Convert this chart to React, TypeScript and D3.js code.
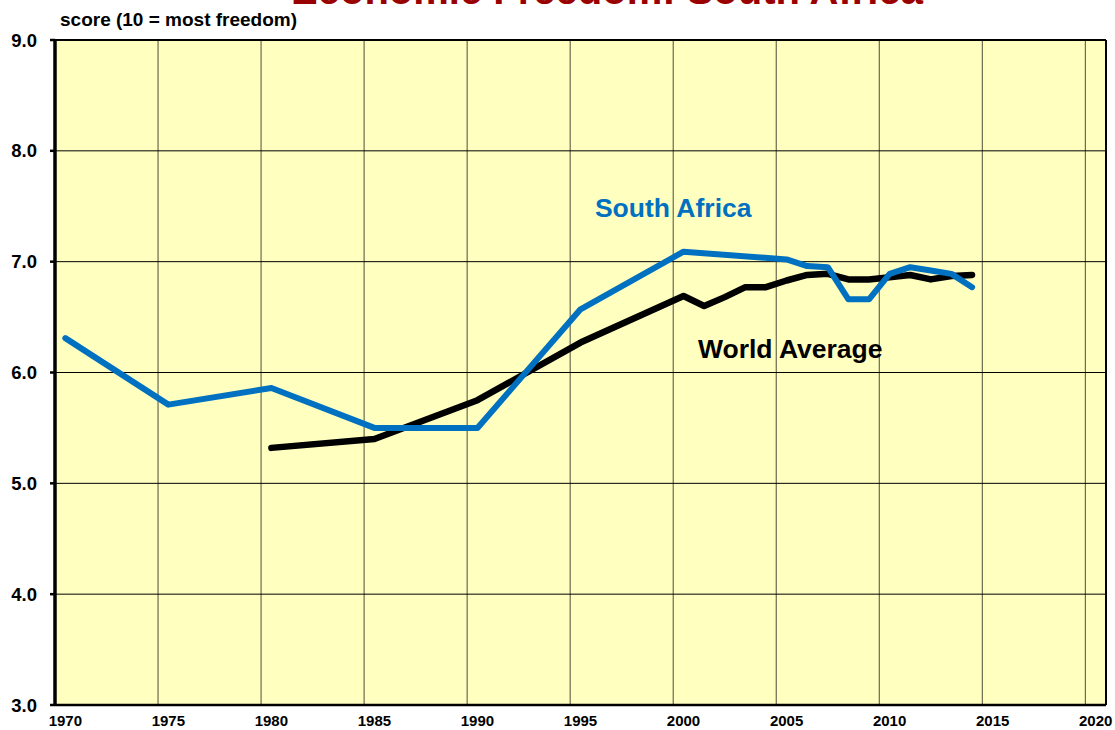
import React from 'react';
import * as d3 from 'd3';

// South Africa EFW summary index
const saYears = [1970, 1975, 1980, 1985, 1990, 1995, 2000, 2005, 2006, 2007, 2008, 2009, 2010, 2011, 2012, 2013, 2014];
const saScores = [6.31, 5.71, 5.86, 5.5, 5.5, 6.57, 7.09, 7.02, 6.96, 6.95, 6.66, 6.66, 6.89, 6.95, 6.92, 6.89, 6.77];

// World average
const worldYears = [1980, 1985, 1990, 1995, 2000, 2001, 2002, 2003, 2004, 2005, 2006, 2007, 2008, 2009, 2010, 2011, 2012, 2013, 2014];
const worldScores = [5.32, 5.4, 5.75, 6.27, 6.69, 6.6, 6.68, 6.77, 6.77, 6.83, 6.88, 6.89, 6.84, 6.84, 6.86, 6.88, 6.84, 6.87, 6.88];

const xTicks = [1970, 1975, 1980, 1985, 1990, 1995, 2000, 2005, 2010, 2015, 2020];
const yTicks = [3, 4, 5, 6, 7, 8, 9];

const W = 1115;
const H = 730;
const margin = { top: 40, right: 9, bottom: 25, left: 55 };
const FONT = '"Liberation Sans", Arial, sans-serif';

const App: React.FC = () => {
  const innerW = W - margin.left - margin.right;
  const innerH = H - margin.top - margin.bottom;

  const x = d3.scaleLinear().domain([1970, 2021]).range([0, innerW]);
  const y = d3.scaleLinear().domain([3, 9]).range([innerH, 0]);

  // points sit at mid-year
  const line = d3.line<[number, number]>()
    .x(d => x(d[0] + 0.5))
    .y(d => y(d[1]));

  const sa = saYears.map((yr, i) => [yr, saScores[i]] as [number, number]);
  const world = worldYears.map((yr, i) => [yr, worldScores[i]] as [number, number]);

  return (
    <svg width={W} height={H} style={{ position: 'absolute', left: 0, top: 0, background: '#fff' }} fontFamily={FONT}>
      <text x={607} y={4} textAnchor="middle" fontSize={40} fontWeight="bold" fill="#990000">
        Economic Freedom: South Africa
      </text>
      <text x={60} y={26} fontSize={19} fontWeight="bold" fill="#000">
        score (10 = most freedom)
      </text>
      <g transform={`translate(${margin.left},${margin.top})`}>
        <rect x={0} y={0} width={innerW} height={innerH} fill="#FFFFC0" />
        {xTicks.slice(1).map(t => (
          <line key={'vx' + t} x1={x(t)} x2={x(t)} y1={0} y2={innerH} stroke="#6b6b50" strokeWidth={1.2} />
        ))}
        {yTicks.map(t => (
          <line key={'hy' + t} x1={0} x2={innerW} y1={y(t)} y2={y(t)} stroke="#000" strokeWidth={1} />
        ))}
        {/* border */}
        <line x1={0} x2={innerW} y1={0} y2={0} stroke="#000" strokeWidth={2} />
        <line x1={innerW} x2={innerW} y1={0} y2={innerH} stroke="#000" strokeWidth={2} />
        <line x1={0} x2={innerW} y1={innerH} y2={innerH} stroke="#000" strokeWidth={2.5} />
        <line x1={0} x2={0} y1={-1} y2={innerH + 1} stroke="#000" strokeWidth={3.5} />
        {yTicks.map(t => (
          <g key={'yt' + t}>
            <line x1={-5} x2={0} y1={y(t)} y2={y(t)} stroke="#000" strokeWidth={2.5} />
            <text x={-18} y={y(t)} dy="0.36em" textAnchor="end" fontSize={18.5} fontWeight="bold">
              {t.toFixed(1)}
            </text>
          </g>
        ))}
        {xTicks.map(t => (
          <text key={'xt' + t} x={x(t + 0.5)} y={innerH + 21} textAnchor="middle" fontSize={15} fontWeight="bold">
            {t}
          </text>
        ))}
        <path d={line(world) ?? ''} fill="none" stroke="#000" strokeWidth={6.5} strokeLinejoin="round" strokeLinecap="round" />
        <path d={line(sa) ?? ''} fill="none" stroke="#0070C0" strokeWidth={6} strokeLinejoin="round" strokeLinecap="round" />
        <text x={x(1996.2)} y={y(7.4)} fontSize={26.5} fontWeight="bold" fill="#0070C0">South Africa</text>
        <text x={x(2001.2)} y={y(6.13)} fontSize={26.5} fontWeight="bold" fill="#000">World Average</text>
      </g>
    </svg>
  );
};

export default App;
